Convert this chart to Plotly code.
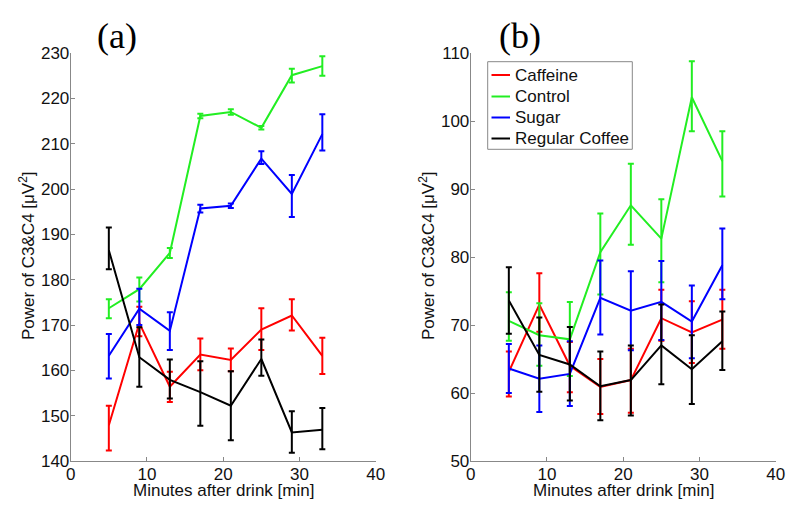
import plotly.graph_objects as go

minutes = [5, 9, 13, 17, 21, 25, 29, 33]
series_names = ["Caffeine", "Control", "Sugar", "Regular Coffee"]
series_colors = ["#ff0000", "#22ee22", "#0000ff", "#000000"]

# Panel (a)
a_caffeine = [147.9, 170.4, 156.4, 163.5, 162.3, 169.0, 172.1, 163.2]
a_caffeine_hi = [152.2, 174.0, 159.7, 167.0, 164.8, 173.7, 175.7, 167.2]
a_caffeine_lo = [142.3, 167.5, 153.0, 160.0, 159.8, 164.5, 168.8, 159.2]
a_control = [173.7, 177.9, 185.9, 216.1, 217.0, 213.5, 225.1, 227.1]
a_control_hi = [175.7, 180.5, 187.0, 216.6, 217.6, 213.9, 226.5, 229.3]
a_control_lo = [171.5, 175.2, 184.8, 215.6, 216.4, 213.1, 223.5, 225.0]
a_sugar = [163.2, 173.6, 168.7, 195.7, 196.3, 206.7, 198.9, 212.1]
a_sugar_hi = [168.0, 178.0, 172.8, 196.5, 196.8, 208.3, 203.1, 216.5]
a_sugar_lo = [158.2, 170.0, 164.5, 194.8, 195.8, 205.5, 193.8, 208.5]
a_coffee = [186.5, 162.9, 157.9, 155.2, 152.2, 162.5, 146.3, 146.9]
a_coffee_hi = [191.5, 169.5, 162.4, 162.0, 159.8, 166.8, 151.0, 151.7]
a_coffee_lo = [182.3, 156.4, 153.8, 147.8, 144.6, 158.8, 141.8, 142.6]

# Panel (b)
b_caffeine = [63.1, 73.0, 64.0, 60.9, 61.9, 71.0, 68.9, 70.8]
b_caffeine_hi = [66.1, 77.6, 67.5, 65.0, 66.5, 75.2, 73.5, 75.2]
b_caffeine_lo = [59.5, 69.0, 60.1, 56.9, 57.1, 67.7, 64.4, 66.5]
b_control = [70.6, 68.5, 67.9, 80.7, 87.6, 82.7, 103.5, 94.1]
b_control_hi = [74.8, 73.2, 73.4, 86.4, 93.7, 88.5, 108.8, 98.5]
b_control_lo = [67.7, 64.0, 62.5, 74.5, 81.8, 76.3, 98.5, 88.9]
b_sugar = [63.6, 62.1, 62.8, 74.0, 72.1, 73.4, 70.5, 78.8]
b_sugar_hi = [67.2, 67.0, 67.6, 79.5, 77.9, 79.4, 75.8, 84.2]
b_sugar_lo = [60.0, 57.2, 58.1, 68.6, 66.3, 67.8, 65.1, 73.8]
b_coffee = [73.6, 65.6, 64.2, 61.0, 61.9, 67.0, 63.5, 67.6]
b_coffee_hi = [78.5, 71.1, 69.7, 66.1, 67.0, 73.0, 68.5, 72.0]
b_coffee_lo = [68.7, 60.2, 58.9, 56.0, 56.7, 61.3, 58.4, 63.4]

x_ticks = [0, 10, 20, 30, 40]
a_y_ticks = [140, 150, 160, 170, 180, 190, 200, 210, 220, 230]
b_y_ticks = [50, 60, 70, 80, 90, 100, 110]

panel_a = [(a_caffeine, a_caffeine_hi, a_caffeine_lo), (a_control, a_control_hi, a_control_lo),
           (a_sugar, a_sugar_hi, a_sugar_lo), (a_coffee, a_coffee_hi, a_coffee_lo)]
panel_b = [(b_caffeine, b_caffeine_hi, b_caffeine_lo), (b_control, b_control_hi, b_control_lo),
           (b_sugar, b_sugar_hi, b_sugar_lo), (b_coffee, b_coffee_hi, b_coffee_lo)]

# page has an 8px body margin; figure drawn at 792x507 inside it
W, H, OFF = 792, 507, 8


def px(x):
    return (x - OFF) / W


def py(y):
    return 1 - (y - OFF) / H


fig = go.Figure()

for panel, (xa, ya) in [(panel_a, ("x", "y")), (panel_b, ("x2", "y2"))]:
    for name, color, (m, hi, lo) in zip(series_names, series_colors, panel):
        fig.add_trace(go.Scatter(
            x=minutes, y=m, mode="lines", name=name, showlegend=False,
            xaxis=xa, yaxis=ya,
            line=dict(color=color, width=2),
            error_y=dict(type="data", symmetric=False,
                         array=[h - v for h, v in zip(hi, m)],
                         arrayminus=[v - l for l, v in zip(lo, m)],
                         color=color, thickness=2, width=3),
        ))

font_sans = "Liberation Sans, Arial, sans-serif"
font_serif = "Liberation Serif, Times New Roman, serif"
axis_common = dict(showline=True, linecolor="#888888", linewidth=1, ticks="inside",
                   ticklen=4, tickcolor="#888888", showgrid=False, zeroline=False,
                   tickfont=dict(family=font_sans, size=17, color="#111111"),
                   mirror=False, automargin=False)

ytitle = "Power of C3&C4 [μV<sup>2</sup>]"
xtitle = "Minutes after drink [min]"

fig.update_layout(
    width=W, height=H,
    margin=dict(l=0, r=0, t=0, b=0, autoexpand=False),
    paper_bgcolor="white", plot_bgcolor="white",
    font=dict(family=font_sans, color="#111111"),
    xaxis=dict(domain=[px(70.7), px(375.7)], range=[0, 40], tickvals=x_ticks,
               anchor="y", ticklabelstandoff=-2, **axis_common),
    yaxis=dict(domain=[py(461), py(53)], range=[140, 230], tickvals=a_y_ticks,
               anchor="x", ticklabelstandoff=-3, **axis_common),
    xaxis2=dict(domain=[px(470.7), px(775.7)], range=[0, 40], tickvals=x_ticks,
                anchor="y2", ticklabelstandoff=-2, **axis_common),
    yaxis2=dict(domain=[py(461), py(53)], range=[50, 110], tickvals=b_y_ticks,
                anchor="x2", ticklabelstandoff=-3, **axis_common),
    showlegend=False,
)

# axis titles
for xc in (223, 623):
    fig.add_annotation(text=xtitle, xref="paper", yref="paper", x=px(xc), y=py(490),
                       xanchor="center", yanchor="middle", showarrow=False,
                       font=dict(family=font_sans, size=17, color="#111111"))
for xc in (27, 427):
    fig.add_annotation(text=ytitle, xref="paper", yref="paper", x=px(xc), y=py(256),
                       xanchor="center", yanchor="middle", showarrow=False, textangle=-90,
                       font=dict(family=font_sans, size=17, color="#111111"))

# panel labels
fig.add_annotation(text="(a)", xref="paper", yref="paper", x=px(117), y=py(36),
                   xanchor="center", yanchor="middle", showarrow=False,
                   font=dict(family=font_serif, size=36, color="black"))
fig.add_annotation(text="(b)", xref="paper", yref="paper", x=px(520), y=py(36),
                   xanchor="center", yanchor="middle", showarrow=False,
                   font=dict(family=font_serif, size=36, color="black"))

# legend box (panel b)
fig.add_shape(type="rect", xref="paper", yref="paper",
              x0=px(487.7), x1=px(632.3), y0=py(149.3), y1=py(61.7),
              line=dict(color="#888888", width=1), fillcolor="white", layer="below")
row_y = [75, 96.5, 117.5, 138.5]
for name, color, yy in zip(series_names, series_colors, row_y):
    fig.add_shape(type="line", xref="paper", yref="paper",
                  x0=px(491.5), x1=px(510), y0=py(yy), y1=py(yy),
                  line=dict(color=color, width=2))
    fig.add_annotation(text=name, xref="paper", yref="paper", x=px(512.5), y=py(yy),
                       xanchor="left", yanchor="middle", showarrow=False,
                       font=dict(family=font_sans, size=17, color="#111111"))

fig.write_html("out.html")
